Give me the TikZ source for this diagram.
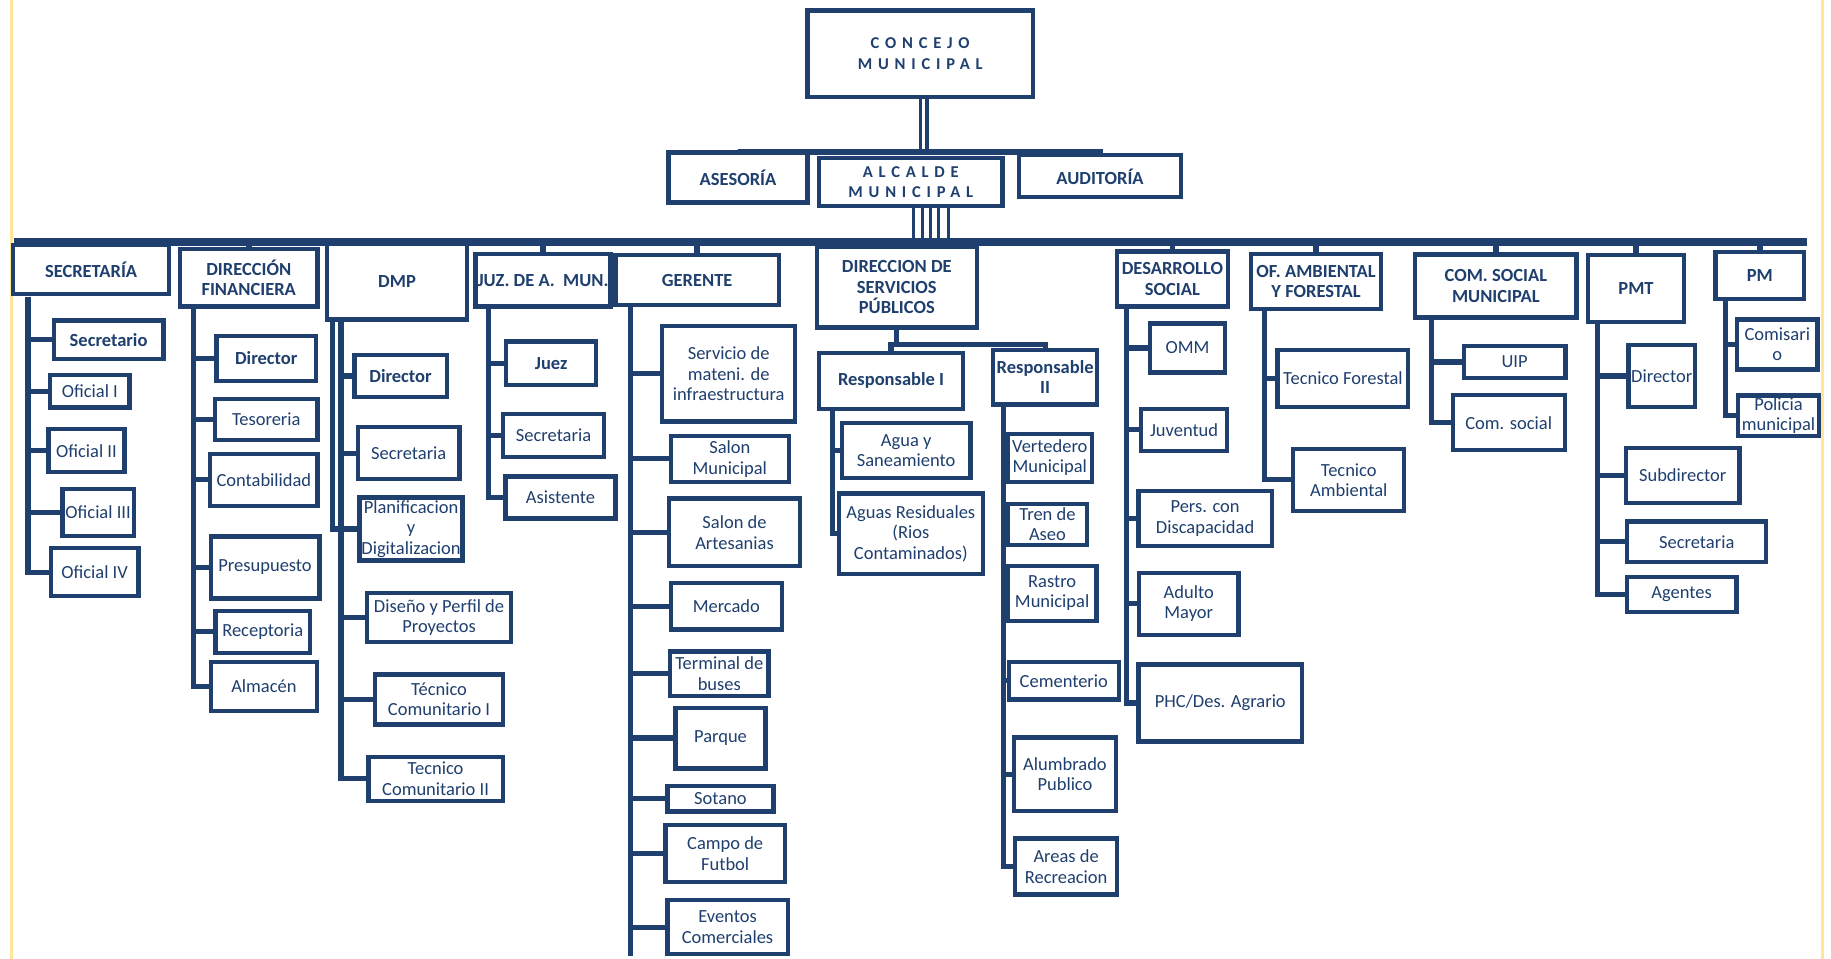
\documentclass[tikz,border=0pt]{standalone}
\usepackage{fontspec}
\setmainfont{Carlito}
\newfontfamily\spacedfont[LetterSpace=35]{Carlito}
\usepackage{tikz}
\usetikzlibrary{calc}
\definecolor{navy}{HTML}{1F3F6E}
\definecolor{pageline}{HTML}{FFE699}
\newcommand{\boxfont}{\fontsize{9.5}{10.5}\selectfont}
\tikzstyle{office} = [draw=navy, line width=2.2pt, fill=white, text=navy,
	font=\boxfont, align=center, inner sep=1pt]
\tikzstyle{chief} = [office, font=\boxfont\bfseries]
\tikzstyle{dept} = [office, font=\boxfont\bfseries]
\tikzstyle{govbox} = [office, font=\fontsize{8.5}{10}\selectfont\bfseries]
\tikzstyle{link} = [draw=navy, line width=2.6pt]
\tikzstyle{bundle} = [draw=navy, line width=1.6pt]
\tikzset{sz/.style 2 args={minimum width=#1*0.6pt, minimum height=#2*0.6pt}}

\begin{document}
\begin{tikzpicture}[x=0.6pt, y=-0.6pt]
	\useasboundingbox (0,0) rectangle (1568,821);
	\draw[pageline, line width=1.5pt] (10,0) -- (10,821) (1561,0) -- (1561,821);
	
	% concejo y alcaldia
	\node (concejo) [govbox, sz={193}{74}] at (788,46) {{\spacedfont CONCEJO}\\[1pt]{\spacedfont MUNICIPAL}};
	\node (asesoria) [dept, sz={119}{43}] at (632,152) {ASESORÍA};
	\node (alcalde) [govbox, sz={157}{41}] at (780,156) {{\spacedfont ALCALDE}\\{\spacedfont MUNICIPAL}};
	\node (auditoria) [dept, sz={139}{36}] at (942,151) {AUDITORÍA};
	
	\coordinate (hub) at (791,130);
	\draw[navy, line width=1.8pt, double=white, double distance=1.4pt] (concejo.south -| hub) -- (hub);
	\draw[link, line width=3pt] (asesoria.north) |- (hub) -| (auditoria.north);
	
	% departamentos
	\node (sec) [dept, sz={134}{42}] at (78,231) {SECRETARÍA};
	\node (dfin) [dept, sz={118}{49}] at (213,238) {DIRECCIÓN\\FINANCIERA};
	\node (dmp) [dept, sz={120}{65}] at (340,241) {DMP};
	\node (juz) [dept, sz={115}{45}] at (465,240) {JUZ. DE A.~~MUN.};
	\node (ger) [dept, sz={140}{43}] at (597,240) {GERENTE};
	\node (dsp) [dept, sz={137}{69}] at (768,246) {DIRECCION DE\\SERVICIOS\\PÚBLICOS};
	\node (dsoc) [dept, sz={95}{47}] at (1004,239) {DESARROLLO\\SOCIAL};
	\node (ofam) [dept, sz={111}{47}] at (1127,241) {OF. AMBIENTAL\\Y FORESTAL};
	\node (comsoc) [dept, sz={138}{54}] at (1281,245) {COM. SOCIAL\\MUNICIPAL};
	\node (pmt) [dept, sz={82}{57}] at (1401,247) {PMT};
	\node (pm) [dept, sz={76}{40}] at (1507,236) {PM};
	
	\coordinate (busL) at (12,207);
	\coordinate (busR) at (1547,207);
	\draw[link, line width=4pt] (busL) -- (busR);
	\foreach \dx in {2,10,17,24,32}
		\draw[bundle] ([xshift=\dx*0.6pt]alcalde.south) -- ([xshift=\dx*0.6pt]alcalde.south |- busL);
	\foreach \d in {sec,dfin,dmp,juz,ger,dsp,dsoc,ofam,comsoc,pmt,pm}
		\draw[link, line width=3pt] (\d.north) -- (\d.north |- busL);
	
	% secretaria
	\node (secretario) [chief, sz={94}{33}] at (93,291) {Secretario};
	\node (ofi1) [office, sz={68}{28}] at (77,335) {Oficial I};
	\node (ofi2) [office, sz={65}{37}] at (74,386) {Oficial II};
	\node (ofi3) [office, sz={61}{40}] at (84,439) {Oficial III};
	\node (ofi4) [office, sz={75}{41}] at (81,490) {Oficial IV};
	\coordinate (secT) at (24,254);
	\foreach \c in {secretario,ofi1,ofi2,ofi3,ofi4}
		\draw[link] (secT) |- (\c.west);
	
	% direccion financiera
	\node (dfdir) [chief, sz={85}{38}] at (228,307) {Director};
	\node (teso) [office, sz={88}{35}] at (228,359) {Tesoreria};
	\node (conta) [office, sz={92}{45}] at (226,411) {Contabilidad};
	\node (presu) [office, sz={93}{53}] at (227,486) {Presupuesto};
	\node (recep) [office, sz={81}{36}] at (225,541) {Receptoria};
	\node (almacen) [office, sz={91}{42}] at (226,588) {Almacén};
	\coordinate (dfinT) at (166,264);
	\foreach \c in {dfdir,teso,conta,presu,recep,almacen}
		\draw[link] (dfinT) |- (\c.west);
	
	% dmp
	\node (dmpdir) [chief, sz={79}{36}] at (343,322) {Director};
	\node (dmpsec) [office, sz={87}{45}] at (350,388) {Secretaria};
	\node (plan) [office, sz={87}{54}] at (352,453) {Planificacion\\y\\Digitalizacion};
	\node (diseno) [office, sz={123}{42}] at (376,529) {Diseño y Perfil de\\Proyectos};
	\node (tc1) [office, sz={110}{43}] at (376,599) {Técnico\\Comunitario I};
	\node (tc2) [office, sz={115}{38}] at (373,667) {Tecnico\\Comunitario II};
	\coordinate (dmpT) at (292,275);
	\coordinate (dmpTb) at (285,275);
	\draw[link] (dmpTb) |- (plan.west);
	\foreach \c in {dmpdir,dmpsec,plan,diseno,tc1,tc2}
		\draw[link] (dmpT) |- (\c.west);
	
	% juzgado
	\node (juez) [chief, sz={77}{37}] at (472,311) {Juez};
	\node (juzsec) [office, sz={86}{37}] at (474,373) {Secretaria};
	\node (asist) [office, sz={94}{36}] at (480,426) {Asistente};
	\coordinate (juzT) at (418,264);
	\foreach \c in {juez,juzsec,asist}
		\draw[link] (juzT) |- (\c.west);
	
	% gerente
	\node (serv) [office, sz={114}{82}] at (624,320) {Servicio de\\mateni. de\\infraestructura};
	\node (salonm) [office, sz={101}{39}] at (625,393) {Salon\\Municipal};
	\node (salona) [office, sz={112}{58}] at (629,456) {Salon de\\Artesanias};
	\node (mercado) [office, sz={95}{40}] at (622,519) {Mercado};
	\node (terminal) [office, sz={84}{38}] at (616,577) {Terminal de\\buses};
	\node (parque) [office, sz={77}{52}] at (617,632) {Parque};
	\node (sotano) [office, sz={91}{22}] at (617,684) {Sotano};
	\node (campo) [office, sz={102}{49}] at (621,731) {Campo de\\Futbol};
	\node (eventos) [office, sz={103}{46}] at (623,794) {Eventos\\Comerciales};
	\coordinate (gerT) at (540,263);
	\draw[link] (gerT) -- (gerT |- eventos.south);
	\foreach \c in {serv,salonm,salona,mercado,terminal,parque,sotano,campo,eventos}
		\draw[link] (gerT) |- (\c.west);
	
	% servicios publicos
	\node (resp1) [chief, sz={123}{48}] at (763,326) {Responsable I};
	\node (resp2) [chief, sz={89}{47}] at (895,323) {Responsable\\II};
	\coordinate (dspJ) at (768,295);
	\draw[link] (dsp.south) -- (dspJ);
	\draw[link] (resp1.north) |- (dspJ) -| (resp2.north);
	
	\node (agua) [office, sz={110}{47}] at (776,386) {Agua y\\Saneamiento};
	\node (aguasr) [office, sz={123}{69}] at (780,457) {Aguas Residuales\\(Rios\\Contaminados)};
	\coordinate (resp1T) at (713,350);
	\foreach \c in {agua,aguasr}
		\draw[link] (resp1T) |- (\c.west);
	
	\node (vert) [office, sz={72}{41}] at (899,392) {Vertedero\\Municipal};
	\node (tren) [office, sz={68}{35}] at (897,449) {Tren de\\Aseo};
	\node (rastro) [office, sz={76}{47}] at (901,508) {Rastro\\Municipal};
	\node (cement) [office, sz={94}{32}] at (911,583) {Cementerio};
	\node (alumb) [office, sz={87}{63}] at (912,663) {Alumbrado\\Publico};
	\node (areas) [office, sz={87}{48}] at (913,742) {Areas de\\Recreacion};
	\coordinate (resp2T) at (859,348);
	\foreach \c in {vert,tren,rastro,cement,alumb,areas}
		\draw[link] (resp2T) |- (\c.west);
	
	% desarrollo social
	\node (omm) [office, sz={64}{42}] at (1017,298) {OMM};
	\node (juv) [office, sz={74}{36}] at (1014,368) {Juventud};
	\node (pers) [office, sz={114}{47}] at (1032,444) {Pers. con\\Discapacidad};
	\node (adulto) [office, sz={85}{53}] at (1018,517) {Adulto\\Mayor};
	\node (phc) [office, sz={140}{66}] at (1045,602) {PHC/Des. Agrario};
	\coordinate (dsocT) at (965,264);
	\foreach \c in {omm,juv,pers,adulto,phc}
		\draw[link] (dsocT) |- (\c.west);
	
	% ambiental y forestal
	\node (tforest) [office, sz={112}{49}] at (1150,324) {Tecnico Forestal};
	\node (tamb) [office, sz={95}{53}] at (1155,411) {Tecnico\\Ambiental};
	\coordinate (ofamT) at (1083,266);
	\foreach \c in {tforest,tamb}
		\draw[link] (ofamT) |- (\c.west);
	
	% comunicacion social
	\node (uip) [office, sz={87}{28}] at (1297,310) {UIP};
	\node (comsocial) [office, sz={96}{47}] at (1292,362) {Com. social};
	\coordinate (comsocT) at (1226,274);
	\foreach \c in {uip,comsocial}
		\draw[link] (comsocT) |- (\c.west);
	
	% pmt
	\node (pmtdir) [office, sz={57}{53}] at (1423,322) {Director};
	\node (subdir) [office, sz={97}{47}] at (1441,407) {Subdirector};
	\node (pmtsec) [office, sz={119}{35}] at (1453,464) {Secretaria};
	\node (agentes) [office, sz={94}{30}] at (1440,509) {Agentes};
	\coordinate (pmtT) at (1368,277);
	\foreach \c in {pmtdir,subdir,pmtsec,agentes}
		\draw[link] (pmtT) |- (\c.west);
	
	% pm
	\node (comis) [office, sz={69}{43}] at (1522,295) {Comisari\\o};
	\node (policia) [office, sz={69}{31}] at (1523,356) {Policia\\municipal};
	\coordinate (pmT) at (1478,258);
	\foreach \c in {comis,policia}
		\draw[link] (pmT) |- (\c.west);
\end{tikzpicture}
\end{document}
